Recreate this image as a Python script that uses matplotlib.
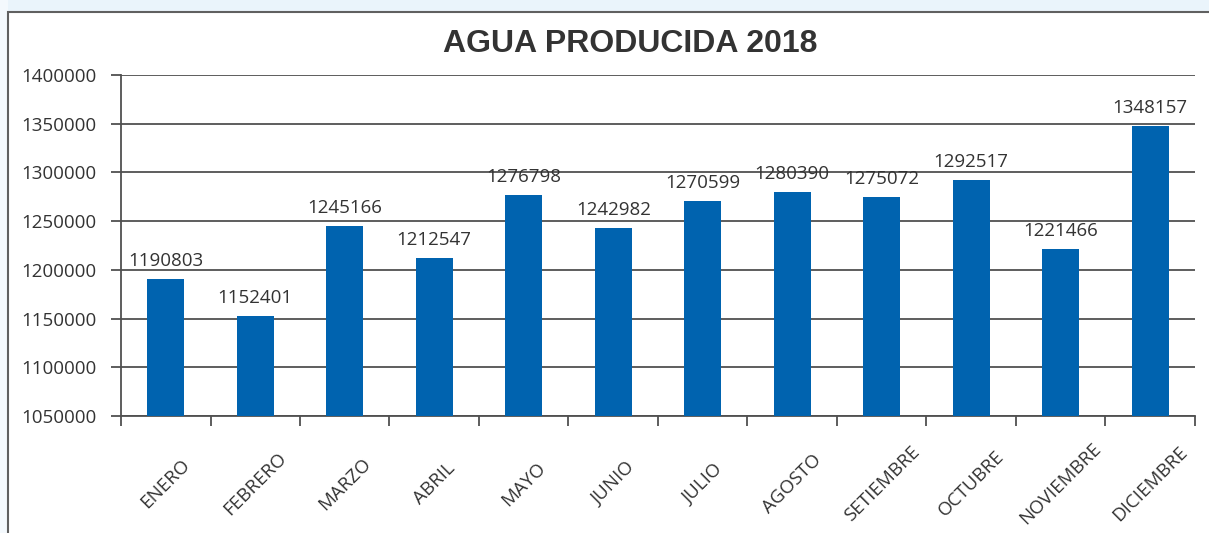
import matplotlib.pyplot as plt
import matplotlib.transforms as mtransforms
from matplotlib.patches import Rectangle
from matplotlib.ticker import StrMethodFormatter

# datos
meses = ["ENERO", "FEBRERO", "MARZO", "ABRIL", "MAYO", "JUNIO", "JULIO",
         "AGOSTO", "SETIEMBRE", "OCTUBRE", "NOVIEMBRE", "DICIEMBRE"]
produccion = [1190803, 1152401, 1245166, 1212547, 1276798, 1242982,
              1270599, 1280390, 1275072, 1292517, 1221466, 1348157]
y_min, y_max, y_paso = 1050000, 1400000, 50000

W, H = 1209, 533
fig = plt.figure(figsize=(W / 100, H / 100), dpi=100)
fig.patch.set_facecolor("white")

# fondo celeste claro arriba y marco del grafico
fig.patches.append(Rectangle((0, 1 - 12 / H), 1, 12 / H, transform=fig.transFigure,
                             facecolor="#eaf4fb", edgecolor="none", zorder=0))
fig.patches.append(Rectangle((0, 0), 8 / W, 1, transform=fig.transFigure,
                             facecolor="#f4f9fd", edgecolor="none", zorder=0))
fig.patches.append(Rectangle((8 / W, -0.1), 1.1, 1.1 - 12 / H, transform=fig.transFigure,
                             facecolor="white", edgecolor="#606060", linewidth=1.5, zorder=1))

ax = fig.add_axes([121 / W, 1 - 416 / H, (1195 - 121) / W, (416 - 75) / H])
ax.set_zorder(2)
ax.patch.set_alpha(0)

fs = 13.5
x = range(len(meses))
ax.bar(x, produccion, width=0.41, color="#0063af", zorder=3)
for xi, v in zip(x, produccion):
    ax.annotate(str(v), (xi, v), xytext=(0, 9), textcoords="offset pixels",
                ha="center", va="bottom", fontsize=fs, color="#333333", family="Open Sans")

ax.set_xlim(-0.5, len(meses) - 0.5)
ax.set_ylim(y_min, y_max)
ax.set_yticks(range(y_min, y_max + 1, y_paso))
ax.yaxis.set_major_formatter(StrMethodFormatter("{x:.0f}"))
ax.yaxis.grid(True, color="#505050", linewidth=1.3, zorder=1)
ax.set_axisbelow(True)

# ticks en los limites de categoria, etiquetas en el centro
ax.set_xticks([i + 0.5 for i in range(-1, len(meses))])
ax.set_xticklabels([])
ax.set_xticks(list(x), minor=True)
ax.set_xticklabels(meses, minor=True, rotation=45, ha="center", va="center",
                   rotation_mode="anchor", fontsize=fs, color="#333333", family="Open Sans")
ax.tick_params(axis="x", which="minor", length=0, pad=0)
ax.tick_params(axis="x", which="major", length=7, width=1.3, color="#505050")
ax.tick_params(axis="y", length=7, width=1.3, color="#505050", labelsize=fs,
               labelcolor="#333333", pad=10.5)
for lab in ax.get_yticklabels():
    lab.set_family("Open Sans")
desplazamiento = mtransforms.ScaledTranslation(0, -68 / 100, fig.dpi_scale_trans)
for lab in ax.get_xticklabels(minor=True):
    lab.set_transform(lab.get_transform() + desplazamiento)

for s in ["top", "right"]:
    ax.spines[s].set_visible(False)
for s in ["left", "bottom"]:
    ax.spines[s].set_color("#505050")
    ax.spines[s].set_linewidth(1.3)

fig.text(630 / W, 1 - 44 / H, "AGUA PRODUCIDA 2018", ha="center", va="center",
         fontsize=23, fontweight="bold", color="#333333", family="Liberation Sans")

fig.savefig("out.png", dpi=100)
